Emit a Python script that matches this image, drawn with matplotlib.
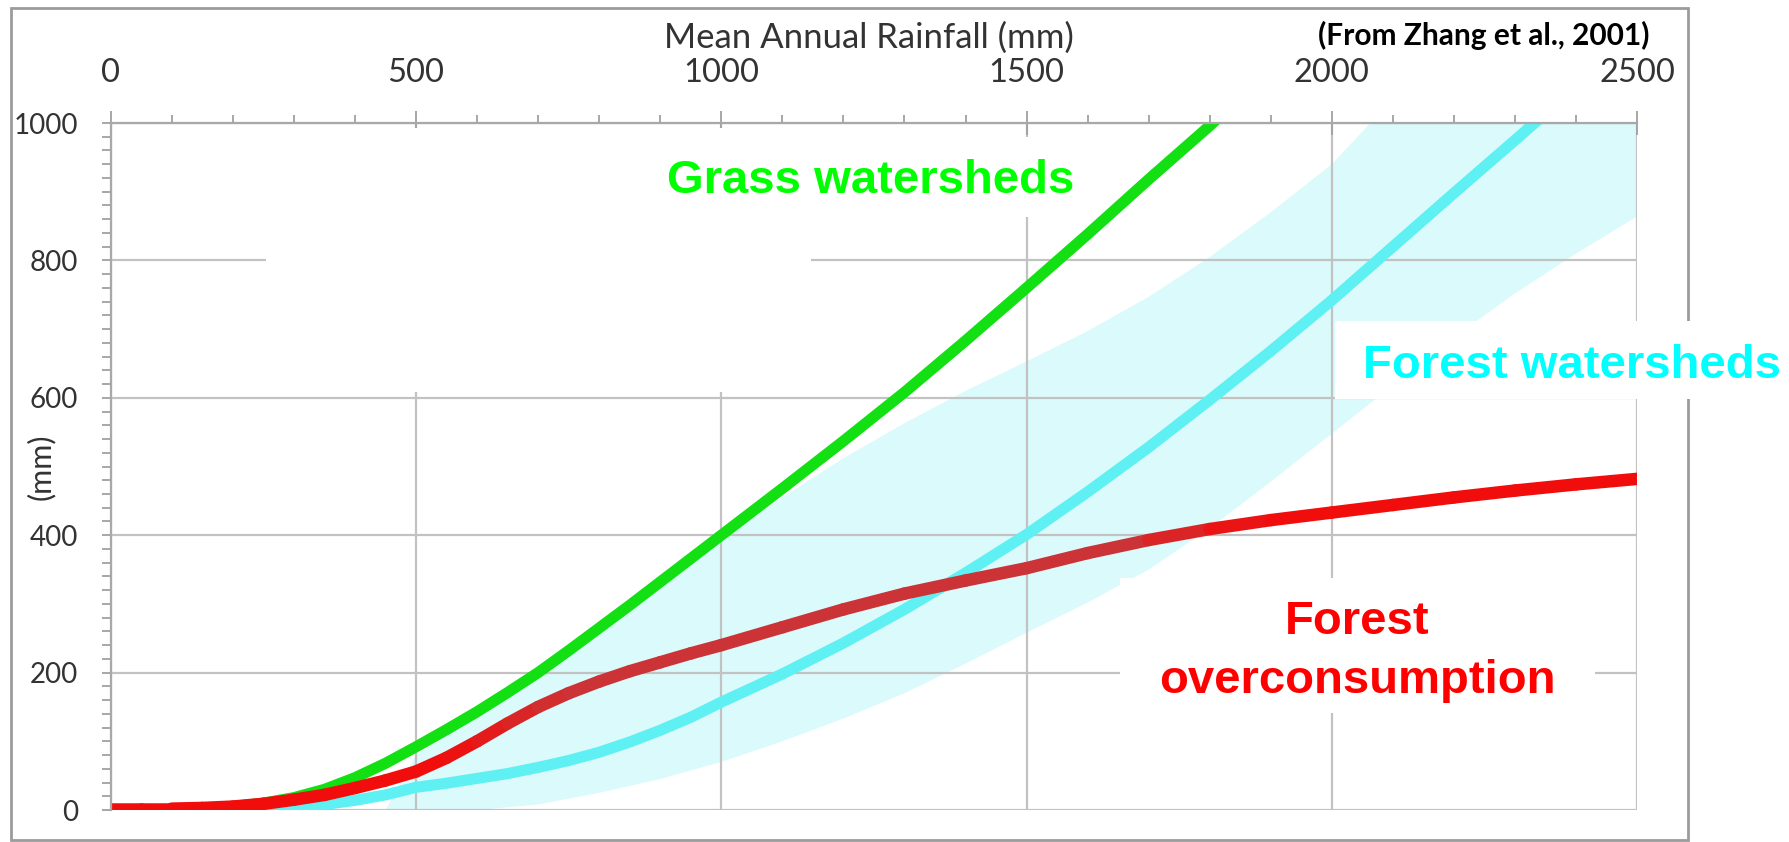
import numpy as np
import matplotlib
matplotlib.use("Agg")
import matplotlib.pyplot as plt
from matplotlib.collections import LineCollection
from matplotlib.patches import Rectangle
from matplotlib.ticker import MultipleLocator

plt.rcParams['font.family'] = ['Lato', 'DejaVu Sans']

# mean annual rainfall (mm) and curve values (mm)
grass_x = [0, 50, 100, 150, 200, 250, 300, 350, 400, 450, 500, 550, 600,
           650, 700, 750, 800, 850, 900, 950, 1000, 1100, 1200, 1300, 1400,
           1500, 1600, 1700, 1800, 1900]
grass_y = [0, 0, 1, 2, 5, 10, 18, 30, 47, 68, 92, 117, 143,
           171, 200, 232, 265, 298, 332, 366, 400, 468, 537, 608, 683,
           760, 838, 918, 996, 1078]

forest_x = [0, 100, 200, 250, 300, 350, 400, 450, 500, 550, 600, 650, 700,
            750, 800, 850, 900, 950, 1000, 1100, 1200, 1300, 1400, 1500,
            1600, 1700, 1800, 1900, 2000, 2100, 2200, 2300, 2400]
forest_y = [0, 0, 0, 1, 4, 8, 14, 22, 33, 39, 46, 53, 62,
            72, 84, 99, 116, 135, 157, 198, 243, 292, 345, 401,
            463, 528, 597, 668, 742, 820, 898, 975, 1053]

over_x = [0, 50, 100, 150, 200, 250, 300, 350, 400, 450, 500, 550, 600,
          650, 700, 750, 800, 850, 900, 950, 1000, 1100, 1200, 1300, 1400,
          1500, 1600, 1700, 1800, 1900, 2000, 2100, 2200, 2300, 2400, 2500]
over_y = [2, 2, 2, 3, 5, 9, 15, 22, 32, 43, 56, 76, 100,
          126, 150, 170, 187, 202, 215, 228, 240, 266, 292, 315, 334,
          352, 374, 393, 409, 422, 433, 444, 455, 465, 474, 482]

# spread of the forest watersheds
band_x = [450, 500, 600, 700, 800, 900, 1000, 1100, 1200, 1300, 1400, 1500,
          1600, 1700, 1800, 1900, 2000, 2100, 2200, 2300, 2400, 2500]
band_lo = [0, 0, 0, 8, 25, 45, 70, 100, 133, 170, 213, 258,
           302, 350, 410, 478, 548, 618, 688, 752, 810, 864]
band_hi = [0, 80, 138, 196, 260, 326, 396, 455, 512, 563, 610, 653,
           697, 747, 805, 870, 940, 1035, 1130, 1225, 1320, 1415]

fig = plt.figure(figsize=(17.89, 8.42), dpi=100)
ax = fig.add_axes([0.0619, 0.0380, 0.8532, 0.8159])
ax.set_xlim(0, 2500)
ax.set_ylim(0, 1000)
ax.set_axisbelow(True)

# outer frame around the whole chart
ax.add_patch(Rectangle((10.7 / 1789, 1 - 840 / 842), (1688 - 10.7) / 1789,
                       (840 - 7.6) / 842, transform=fig.transFigure,
                       fill=False, ec='#9c9c9c', lw=2, clip_on=False,
                       zorder=0.1))

ax.fill_between(band_x, band_lo, band_hi, color='#dbfafb', lw=0, zorder=0.2)

ax.grid(True, which='major', color='#c2c2c2', lw=1.6)
for side in ['bottom', 'right']:
    ax.spines[side].set_visible(False)
for side in ['top', 'left']:
    ax.spines[side].set_color('#a8a8a8')
    ax.spines[side].set_linewidth(1.6)

# white patches hiding parts of the grid
boxes = [(0.1018, 0.6084, 0.3571, 0.3843),
         (0.3468, 0.8632, 0.3027, 0.1164),
         (0.8021, 0.5983, 0.2975, 0.1135),
         (0.6613, 0.1412, 0.3112, 0.1965)]
for bx, by, bw, bh in boxes:
    ax.add_patch(Rectangle((bx, by), bw, bh, transform=ax.transAxes,
                           fc='white', ec='none', clip_on=False, zorder=1))

ax.plot(forest_x, forest_y, color='#5ef0f2', lw=8, solid_capstyle='round',
        solid_joinstyle='round', zorder=2)
ax.plot(grass_x, grass_y, color='#12e012', lw=8, solid_capstyle='round',
        solid_joinstyle='round', zorder=2.1)

# overconsumption curve, darker red through the middle
pts = np.column_stack([over_x, over_y])
segs = np.stack([pts[:-1], pts[1:]], axis=1)
mid = (pts[:-1, 0] + pts[1:, 0]) / 2
mix = np.interp(mid, [0, 550, 750, 1650, 1900, 2500], [0, 0, 1, 1, 0, 0])
bright = np.array([0.95, 0.05, 0.05])
dark = np.array([0.80, 0.20, 0.21])
cols = [tuple(bright * (1 - m) + dark * m) for m in mix]
lc = LineCollection(segs, colors=cols, linewidths=9, capstyle='round',
                    joinstyle='round', zorder=2.2)
ax.add_collection(lc)

ax.xaxis.tick_top()
ax.xaxis.set_major_locator(MultipleLocator(500))
ax.xaxis.set_minor_locator(MultipleLocator(100))
ax.yaxis.set_major_locator(MultipleLocator(200))
ax.yaxis.set_minor_locator(MultipleLocator(20))
ax.tick_params(axis='x', which='major', direction='inout', length=17,
               width=1.3, color='#a0a0a0', pad=17, labelsize=23.5,
               labelcolor='#333333')
ax.tick_params(axis='x', which='minor', direction='out', length=6,
               width=1.3, color='#a0a0a0')
ax.tick_params(axis='y', which='both', direction='out', length=6.5,
               width=1.3, color='#a0a0a0')
ax.tick_params(axis='y', which='major', pad=17, labelsize=20,
               labelcolor='#333333')

ax.xaxis.set_label_position('top')
ax.set_xlabel('Mean Annual Rainfall (mm)', fontsize=25, color='#333333')
ax.xaxis.label.set_va('center')
ax.xaxis.set_label_coords(0.497, 1.1237)
ax.set_ylabel('(mm)', fontsize=22, color='#333333')
ax.yaxis.label.set_va('center')
ax.yaxis.set_label_coords(-0.0457, 0.5)

lab = dict(family=['Liberation Sans', 'DejaVu Sans'], fontsize=34,
           fontweight='bold', ha='center', va='baseline',
           transform=ax.transAxes, clip_on=False, zorder=3)
ax.text(0.4981, 0.898, 'Grass watersheds', color='#00ff00', **lab)
ax.text(0.9574, 0.6288, 'Forest watersheds', color='#00ffff', **lab)
ax.text(0.8165, 0.2562, 'Forest', color='#ff0000', **lab)
ax.text(0.8165, 0.1703, 'overconsumption', color='#ff0000', **lab)

fig.text(1484 / 1789, 1 - 35 / 842, '(From Zhang et al., 2001)',
         fontsize=21.5, fontweight='bold', color='black',
         ha='center', va='center')

fig.savefig('out.png', dpi=100, facecolor='white')
